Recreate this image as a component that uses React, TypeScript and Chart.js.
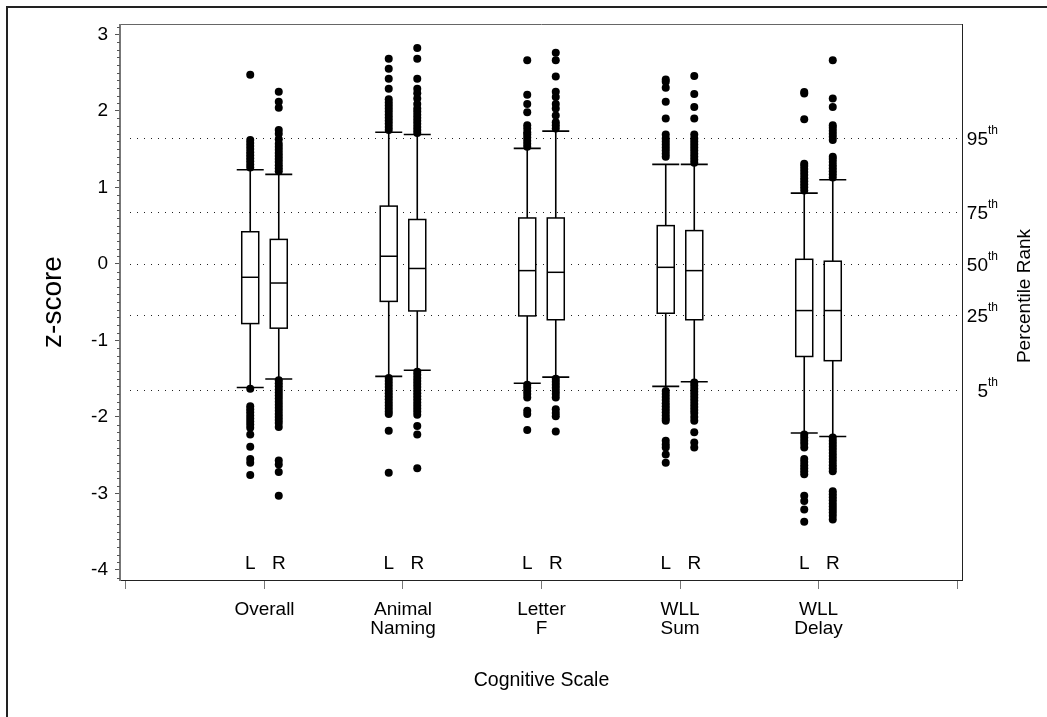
import React, { useEffect, useRef } from "react";
import { Chart, registerables } from "chart.js";

Chart.register(...registerables);

const FONT = '"Liberation Sans", Arial, sans-serif';

const categories: string[][] = [["Overall"], ["Animal", "Naming"], ["Letter", "F"], ["WLL", "Sum"], ["WLL", "Delay"]];
const sideLabels = ["L", "R"];
const yTicks = [-4, -3, -2, -1, 0, 1, 2, 3];
const percentileZ = [1.645, 0.674, 0, -0.674, -1.645];
const percentileLabels = ["95", "75", "50", "25", "5"];

// Left side box statistics
const q1L = [-0.78, -0.49, -0.68, -0.645, -1.21];
const medianL = [-0.175, 0.1, -0.088, -0.045, -0.61];
const q3L = [0.42, 0.755, 0.6, 0.5, 0.06];
const whiskerLowL = [-1.615, -1.47, -1.56, -1.6, -2.21];
const whiskerHighL = [1.23, 1.72, 1.51, 1.3, 0.925];

// Right side box statistics
const q1R = [-0.84, -0.615, -0.73, -0.73, -1.265];
const medianR = [-0.25, -0.06, -0.11, -0.088, -0.61];
const q3R = [0.32, 0.58, 0.6, 0.435, 0.035];
const whiskerLowR = [-1.505, -1.39, -1.48, -1.54, -2.255];
const whiskerHighR = [1.17, 1.69, 1.735, 1.3, 1.1];

// Outliers per category
const outliersL: number[][] = [
  [2.47, 1.26, 1.3, 1.34, 1.38, 1.42, 1.46, 1.5, 1.54, 1.58, 1.62,
   -1.63, -1.86, -1.9, -1.94, -1.98, -2.02, -2.06, -2.1, -2.14, -2.23, -2.39, -2.55, -2.6, -2.76],
  [2.68, 2.55, 2.42, 2.29, 1.75, 1.79, 1.83, 1.87, 1.91, 1.95, 1.99, 2.03, 2.07, 2.11, 2.15,
   -1.49, -1.53, -1.57, -1.61, -1.65, -1.69, -1.73, -1.77, -1.81, -1.85, -1.89, -1.93, -1.96, -2.18, -2.73],
  [2.66, 2.21, 2.09, 1.98, 1.81, 1.77, 1.53, 1.57, 1.61, 1.65, 1.69, 1.72,
   -1.58, -1.62, -1.66, -1.7, -1.745, -1.92, -1.96, -2.17],
  [2.41, 2.38, 2.3, 2.12, 1.9, 1.4, 1.44, 1.48, 1.52, 1.56, 1.6, 1.64, 1.69,
   -1.66, -1.7, -1.74, -1.78, -1.82, -1.86, -1.9, -1.94, -1.98, -2.02, -2.05, -2.31, -2.36, -2.4, -2.49, -2.6],
  [2.245, 2.225, 1.89, 0.96, 1.0, 1.04, 1.08, 1.12, 1.16, 1.2, 1.24, 1.28, 1.31,
   -2.23, -2.27, -2.31, -2.35, -2.4, -2.55, -2.59, -2.63, -2.67, -2.71, -2.75, -3.03, -3.1, -3.21, -3.37],
];
const outliersR: number[][] = [
  [2.25, 2.12, 2.04, 1.75, 1.7, 1.63, 1.21, 1.25, 1.29, 1.33, 1.37, 1.41, 1.45, 1.49, 1.53, 1.57,
   -1.52, -1.56, -1.6, -1.64, -1.68, -1.72, -1.76, -1.8, -1.84, -1.88, -1.92, -1.96, -2.0, -2.04, -2.08, -2.13,
   -2.57, -2.62, -2.72, -3.03],
  [2.82, 2.68, 2.42, 2.29, 2.23, 2.16, 2.09, 2.03, 1.99, 1.95, 1.91, 1.87, 1.83, 1.79, 1.75, 1.71,
   -1.41, -1.45, -1.49, -1.53, -1.57, -1.61, -1.65, -1.69, -1.73, -1.77, -1.81, -1.85, -1.89, -1.93, -1.97,
   -2.12, -2.23, -2.67],
  [2.76, 2.66, 2.45, 2.25, 2.18, 2.09, 2.03, 1.94, 1.85, 1.81, 1.77,
   -1.5, -1.54, -1.58, -1.62, -1.66, -1.7, -1.745, -1.9, -1.95, -1.99, -2.19],
  [2.455, 2.22, 2.05, 1.9, 1.32, 1.36, 1.4, 1.44, 1.48, 1.52, 1.56, 1.6, 1.64, 1.69,
   -1.55, -1.59, -1.63, -1.67, -1.71, -1.75, -1.79, -1.83, -1.87, -1.91, -1.95, -2.0, -2.05, -2.2, -2.335, -2.4],
  [2.66, 2.16, 2.05, 1.62, 1.66, 1.7, 1.74, 1.78, 1.81, 1.13, 1.17, 1.21, 1.25, 1.29, 1.33, 1.37, 1.4,
   -2.27, -2.31, -2.35, -2.39, -2.43, -2.47, -2.51, -2.55, -2.59, -2.63, -2.67, -2.71,
   -2.97, -3.01, -3.05, -3.09, -3.13, -3.17, -3.21, -3.25, -3.29, -3.34],
];

const SIDE_OFFSET = 0.103;

const boxPlugin = {
  id: "boxes",
  beforeDatasetsDraw(chart: any) {
    const { ctx, chartArea: a, scales } = chart;
    const x = scales.x;
    const y = scales.y;
    ctx.save();
    // percentile reference lines
    ctx.strokeStyle = "#222";
    ctx.lineWidth = 1;
    ctx.setLineDash([1, 6]);
    percentileZ.forEach((z) => {
      const py = Math.round(y.getPixelForValue(z)) + 0.5;
      ctx.beginPath();
      ctx.moveTo(a.left + 10, py);
      ctx.lineTo(a.right - 4, py);
      ctx.stroke();
    });
    ctx.setLineDash([]);

    const sets = [
      { sign: -1, q1: q1L, med: medianL, q3: q3L, lo: whiskerLowL, hi: whiskerHighL },
      { sign: 1, q1: q1R, med: medianR, q3: q3R, lo: whiskerLowR, hi: whiskerHighR },
    ];
    const halfBox = 8.5;
    const halfCap = 13.5;
    ctx.strokeStyle = "#000";
    sets.forEach((s) => {
      categories.forEach((_, i) => {
        const cx = x.getPixelForValue(i + 1 + s.sign * SIDE_OFFSET);
        const pq1 = y.getPixelForValue(s.q1[i]);
        const pq3 = y.getPixelForValue(s.q3[i]);
        const pm = y.getPixelForValue(s.med[i]);
        const plo = y.getPixelForValue(s.lo[i]);
        const phi = y.getPixelForValue(s.hi[i]);
        ctx.lineWidth = 1.6;
        ctx.beginPath();
        ctx.moveTo(cx, pq3);
        ctx.lineTo(cx, phi);
        ctx.moveTo(cx, pq1);
        ctx.lineTo(cx, plo);
        ctx.moveTo(cx - halfCap, phi);
        ctx.lineTo(cx + halfCap, phi);
        ctx.moveTo(cx - halfCap, plo);
        ctx.lineTo(cx + halfCap, plo);
        ctx.stroke();
        ctx.fillStyle = "#fff";
        ctx.fillRect(cx - halfBox, pq3, halfBox * 2, pq1 - pq3);
        ctx.lineWidth = 1.5;
        ctx.strokeRect(cx - halfBox, pq3, halfBox * 2, pq1 - pq3);
        ctx.beginPath();
        ctx.moveTo(cx - halfBox, pm);
        ctx.lineTo(cx + halfBox, pm);
        ctx.stroke();
      });
    });
    ctx.restore();
  },
  afterDraw(chart: any) {
    const { ctx, chartArea: a, scales, width, height } = chart;
    const x = scales.x;
    const y = scales.y;
    ctx.save();
    // plot frame
    ctx.lineWidth = 1;
    ctx.strokeStyle = "#666";
    ctx.beginPath();
    ctx.moveTo(a.left, a.top + 0.5);
    ctx.lineTo(a.right, a.top + 0.5);
    ctx.stroke();
    ctx.strokeStyle = "#222";
    ctx.beginPath();
    ctx.moveTo(a.right - 0.5, a.top);
    ctx.lineTo(a.right - 0.5, a.bottom);
    ctx.moveTo(a.left, a.bottom + 0.5);
    ctx.lineTo(a.right, a.bottom + 0.5);
    ctx.stroke();
    ctx.strokeStyle = "#777";
    ctx.lineWidth = 2;
    ctx.beginPath();
    ctx.moveTo(a.left, a.top);
    ctx.lineTo(a.left, a.bottom + 1);
    ctx.stroke();

    // minor ticks
    ctx.strokeStyle = "#555";
    ctx.lineWidth = 1;
    ctx.beginPath();
    for (let k = -41; k <= 31; k++) {
      if (k % 10 === 0) continue;
      const py = Math.round(y.getPixelForValue(k / 10)) + 0.5;
      if (py < a.top || py > a.bottom) continue;
      ctx.moveTo(a.left - 3, py);
      ctx.lineTo(a.left, py);
    }
    ctx.stroke();

    // L / R labels
    ctx.fillStyle = "#000";
    ctx.font = `19px ${FONT}`;
    ctx.textAlign = "center";
    ctx.textBaseline = "middle";
    categories.forEach((_, i) => {
      [-1, 1].forEach((sgn, j) => {
        const cx = x.getPixelForValue(i + 1 + sgn * SIDE_OFFSET);
        ctx.fillText(sideLabels[j], cx, a.bottom - 16);
      });
    });

    // percentile labels
    percentileZ.forEach((z, i) => {
      const py = y.getPixelForValue(z) + 1.5;
      const nx = a.right + 25;
      ctx.font = `19px ${FONT}`;
      ctx.textAlign = "right";
      ctx.textBaseline = "middle";
      ctx.fillText(percentileLabels[i], nx, py);
      ctx.font = `12px ${FONT}`;
      ctx.textAlign = "left";
      ctx.fillText("th", nx, py - 9);
    });

    // right title
    ctx.save();
    ctx.translate(1025, (a.top + a.bottom) / 2 - 6);
    ctx.rotate(-Math.PI / 2);
    ctx.font = `19px ${FONT}`;
    ctx.textAlign = "center";
    ctx.textBaseline = "middle";
    ctx.fillText("Percentile Rank", 0, 0);
    ctx.restore();

    // outer frame
    ctx.strokeStyle = "#222";
    ctx.lineWidth = 2;
    ctx.beginPath();
    ctx.moveTo(7, height);
    ctx.lineTo(7, 7);
    ctx.lineTo(width, 7);
    ctx.stroke();
    ctx.restore();
  },
};

export default function App() {
  const ref = useRef<HTMLCanvasElement>(null);
  useEffect(() => {
    if (!ref.current) return;
    const datasets = [outliersL, outliersR].map((set, j) => ({
      label: sideLabels[j],
      data: set.flatMap((vals, i) => vals.map((v) => ({ x: i + 1 + (j === 0 ? -1 : 1) * SIDE_OFFSET, y: v }))),
      pointRadius: 4,
      pointBackgroundColor: "#000",
      pointBorderWidth: 0,
      showLine: false,
    }));
    const chart = new Chart(ref.current, {
      type: "scatter",
      data: { datasets },
      plugins: [boxPlugin],
      options: {
        animation: false,
        responsive: false,
        devicePixelRatio: 1,
        layout: { padding: { top: 24, right: 84, left: 0, bottom: 0 } },
        plugins: { legend: { display: false }, tooltip: { enabled: false } },
        scales: {
          x: {
            type: "linear",
            min: -0.0433,
            max: 6.0433,
            afterBuildTicks: (s: any) => {
              s.ticks = [0, 1, 2, 3, 4, 5, 6].map((v) => ({ value: v }));
            },
            afterFit: (s: any) => {
              s.height = 137;
            },
            ticks: {
              autoSkip: false,
              maxRotation: 0,
              padding: 12,
              color: "#000",
              font: { family: FONT, size: 19, lineHeight: 0.96 },
              callback: (v: any) => (v >= 1 && v <= 5 ? categories[v - 1] : ""),
            },
            grid: { drawOnChartArea: false, drawTicks: true, tickLength: 9, color: "#777", lineWidth: 1 },
            border: { display: false },
            title: {
              display: true,
              text: "Cognitive Scale",
              color: "#000",
              font: { family: FONT, size: 19.5 },
              padding: { top: 0, bottom: 25 },
            },
          },
          y: {
            type: "linear",
            position: "left",
            min: -4.1307,
            max: 3.1346,
            afterBuildTicks: (s: any) => {
              s.ticks = yTicks.map((v) => ({ value: v }));
            },
            afterFit: (s: any) => {
              s.width = 120;
            },
            ticks: {
              padding: 7,
              color: "#000",
              font: { family: FONT, size: 19 },
              callback: (v: any) => String(v),
            },
            grid: { drawOnChartArea: false, drawTicks: true, tickLength: 5, color: "#555", lineWidth: 1 },
            border: { display: false },
            title: {
              display: true,
              text: "z-score",
              color: "#000",
              font: { family: FONT, size: 28 },
              padding: { top: 36, bottom: 0 },
            },
          },
        },
      },
    });
    return () => chart.destroy();
  }, []);
  return (
    <div style={{ position: "fixed", left: 0, top: 0, width: 1047, height: 717, background: "#fff" }}>
      <canvas ref={ref} width={1047} height={717} style={{ width: 1047, height: 717, display: "block" }} />
    </div>
  );
}
